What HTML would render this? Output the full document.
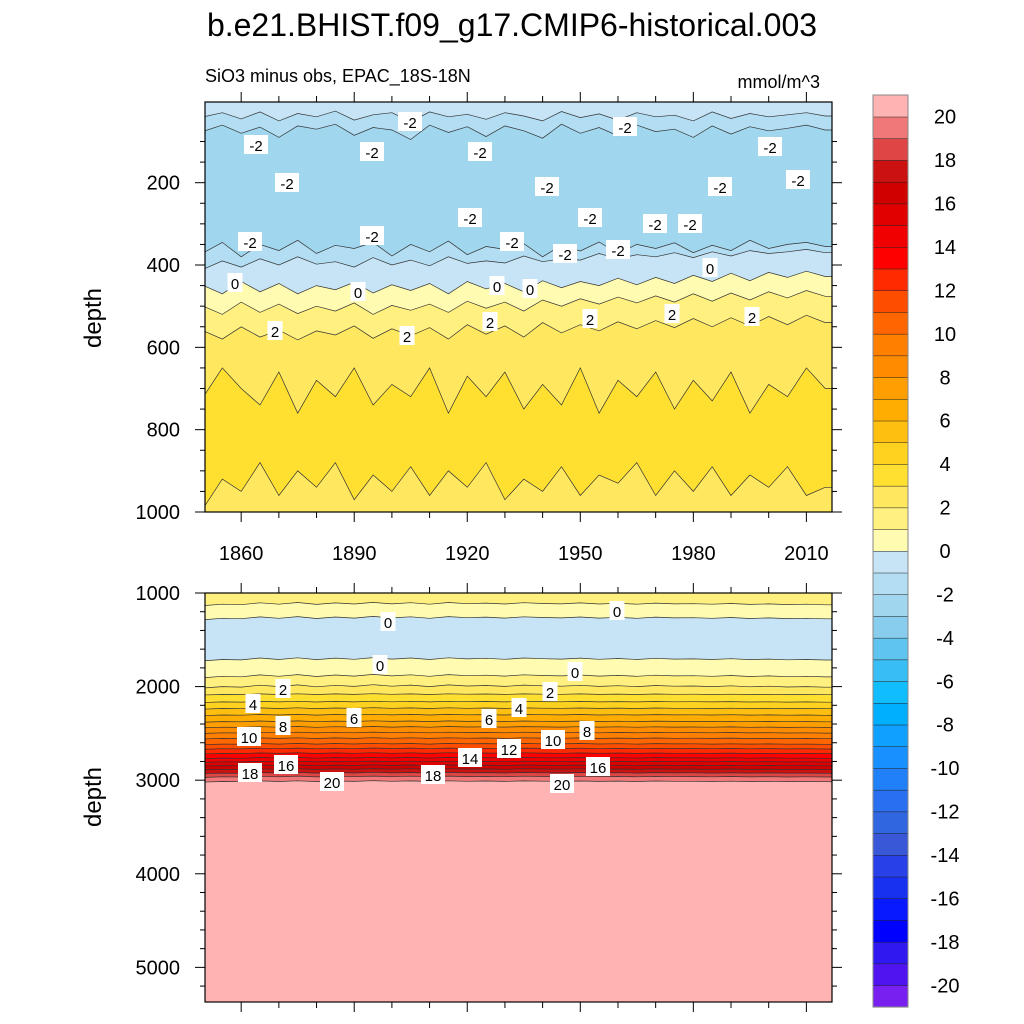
<!DOCTYPE html>
<html><head><meta charset="utf-8"><style>
body{margin:0;background:#fff;}
svg{display:block;font-family:"Liberation Sans",sans-serif;}
</style></head><body>
<svg id="chart" width="1024" height="1024" viewBox="0 0 1024 1024" xmlns="http://www.w3.org/2000/svg">
<text x="512" y="36" font-size="32" text-anchor="middle">b.e21.BHIST.f09_g17.CMIP6-historical.003</text>
<text x="205" y="82" font-size="18">SiO3 minus obs, EPAC_18S-18N</text>
<text x="820" y="88" font-size="18" text-anchor="end">mmol/m^3</text>
<g id="top"></g>
<g id="bot"></g>
<g id="cbar"></g>
</svg>
<script>
const NS="http://www.w3.org/2000/svg";
const years=[];for(let y=1850;y<=2015;y+=5)years.push(y);
// top panel contour boundary depths (m)
const topLevels=[-1,-2,-2,-1,0,1,2,3,3];
const topBelow=[-1.5,-2.5,-1.5,-0.5,0.5,1.5,2.5,3.5,2.5];
const topB0=[40,30,45,28,50,32,40,26,48,35,30,52,28,40,34,46,30,38,50,27,42,33,48,30,40,36,50,28,44,32,40,35,30,38];
const topB1=[75,60,80,65,90,62,70,58,85,66,72,95,60,78,64,88,62,74,92,58,80,66,86,60,76,70,90,62,82,64,74,68,60,72];
const topB2=[370,345,380,350,365,340,372,352,360,345,378,350,368,342,375,355,362,348,380,352,366,344,372,350,360,346,370,352,365,340,360,350,345,355];
const topB3=[410,390,405,385,400,380,398,392,405,382,400,388,402,380,396,390,395,378,392,385,388,372,385,375,380,370,382,368,378,365,372,368,362,370];
const topB4=[450,470,440,465,445,470,450,460,442,468,448,462,445,470,440,458,445,465,438,455,440,450,432,448,430,445,425,440,420,438,418,430,415,428];
const topB5=[500,520,490,515,495,518,500,512,492,520,498,510,495,515,488,505,490,512,485,500,482,495,478,492,475,490,470,488,468,485,465,480,462,476];
const topB6=[560,580,550,575,558,582,560,570,548,578,555,572,552,580,545,568,548,575,540,565,545,560,538,555,535,552,530,550,528,548,525,545,522,540];
const topB7=[720,650,700,740,660,760,680,720,650,740,690,720,650,760,670,720,660,750,690,740,650,760,680,720,660,750,680,730,660,760,690,720,650,700];
const topB8=[990,920,950,880,960,900,940,880,970,910,950,890,960,900,940,880,970,920,950,890,960,910,930,880,960,900,950,890,960,910,940,890,960,940];
const topBounds=[topB0,topB1,topB2,topB3,topB4,topB5,topB6,topB7,topB8];
// bottom panel
const botLevels=[1,0,0,1,2,3,4,5,6,7,8,9,10,11,12,13,14,15,16,17,18,19,20];
const botMean=[1110,1260,1700,1880,1990,2080,2160,2230,2300,2370,2430,2490,2550,2610,2660,2710,2760,2800,2840,2880,2920,2960,3010];
const botJit=[25,10,15,-5,10,-8,12,-4,8,-10,6,-6,10,-8,4,-2,8,-6,2,6,-4,8,0,10,-2,6,4,10,2,12,6,14,10,16];
const tickYearsMajor=[1860,1890,1920,1950,1980,2010];
const topDepthTicks=[200,400,600,800,1000];
const botDepthTicks=[1000,2000,3000,4000,5000];
const cbLevels=[];for(let v=-20;v<=20;v++)cbLevels.push(v);
const cbColors=["#7820F0","#5014F0","#3018F0","#0000FF","#0818FF","#1830F0","#2840E8","#3858D8","#3066E0","#2870F0","#2080F8","#1890FF","#10A0FF","#00B0FF","#10BEFF","#38BDF4","#60C4F0","#88CCEE","#A0D6EE","#B2DDF2","#C6E4F5","#FFFBB0","#FFF080","#FFE860","#FFE030","#FFD21F","#FFBF10","#FFAD00","#FF9E00","#FF8C00","#FF7F00","#FF6600","#FF4D00","#FF2A00","#FF0000","#F00000","#E00000","#D00000","#CC1111","#DE4545","#F07878","#FFB3B3"];
function colorFor(v){let i=Math.floor(v)+21;return cbColors[Math.max(0,Math.min(41,i))];}
const X0=205,X1=832,Y0=1850.4,Y1=2016.8;
const xs=y=>X0+(y-Y0)/(Y1-Y0)*(X1-X0);
function mk(t,a,p){const e=document.createElementNS(NS,t);for(const k in a)e.setAttribute(k,a[k]);p.appendChild(e);return e;}
function panel(g,top,bot,dmin,dmax,bounds,belows,topColor,name){
  const ys=d=>top+(d-dmin)/(dmax-dmin)*(bot-top);
  const cid="clip"+name;
  const cp=mk("clipPath",{id:cid},g);mk("rect",{x:X0,y:top,width:X1-X0,height:bot-top},cp);
  const bg=mk("rect",{x:X0,y:top,width:X1-X0,height:bot-top,fill:topColor},g);
  
  
  const cg=mk("g",{"clip-path":"url(#"+cid+")"},g);
  bounds.forEach((arr,i)=>{
    const pts=arr.map((d,k)=>xs(years[k]).toFixed(1)+","+ys(d).toFixed(1));
    const xa=xs(years[0])-5,xb=xs(years[years.length-1])+10;
    const poly=mk("polygon",{points:xa+","+ys(arr[0])+" "+pts.join(" ")+" "+xb+","+ys(arr[arr.length-1])+" "+xb+","+(bot+5)+" "+xa+","+(bot+5),fill:colorFor(belows[i])},cg);
    
    
    const ln=mk("polyline",{points:xa+","+ys(arr[0])+" "+pts.join(" ")+" "+xb+","+ys(arr[arr.length-1]),fill:"none",stroke:"#333",'stroke-width':0.7},cg);
    
    
  });
  mk("rect",{x:X0,y:top,width:X1-X0,height:bot-top,fill:"none",stroke:"#000",'stroke-width':1.2},g);
  for(let y=1860;y<=2010;y+=10){const maj=tickYearsMajor.includes(y);const x=xs(y);
    mk("line",{x1:x,x2:x,y1:bot,y2:bot+(maj?10:6),stroke:"#000"},g);
    mk("line",{x1:x,x2:x,y1:top,y2:top-(maj?10:6),stroke:"#000"},g);}
  return ys;
}
const gt=document.getElementById("top");
const ysT=panel(gt,102,512,4,1000,topBounds,topBelow,"#C6E4F5","top");
for(let d=100;d<=1000;d+=50){const maj=topDepthTicks.includes(d);const y=ysT(d);
  mk("line",{x1:X0,x2:X0-(maj?10:5),y1:y,y2:y,stroke:"#000"},gt);mk("line",{x1:X1,x2:X1+(maj?10:5),y1:y,y2:y,stroke:"#000"},gt);}
topDepthTicks.forEach(d=>{const t=mk("text",{x:180,y:ysT(d)+7,'font-size':20,'text-anchor':'end'},gt);t.textContent=d;
  });
tickYearsMajor.forEach(y=>{const t=mk("text",{x:xs(y),y:560,'font-size':20,'text-anchor':'middle'},gt);t.textContent=y;
  });
const yl1=mk("text",{transform:"translate(101,318) rotate(-90)",'font-size':24,'text-anchor':'middle'},gt);yl1.textContent="depth";

const gb=document.getElementById("bot");
const botBounds=botMean.map(m=>botJit.map(j=>m+j*(m<2000?1:0.4)));
const botBelow=botLevels.map((l,i)=>i==1?-0.5:(i==0?0.5:l+0.5));
const ysB=panel(gb,593,1002,1000,5370,botBounds,botBelow,"#FFF080","bot");
for(let d=1000;d<=5200;d+=200){const maj=botDepthTicks.includes(d);const y=ysB(d);
  mk("line",{x1:X0,x2:X0-(maj?10:5),y1:y,y2:y,stroke:"#000"},gb);mk("line",{x1:X1,x2:X1+(maj?10:5),y1:y,y2:y,stroke:"#000"},gb);}
botDepthTicks.forEach(d=>{const t=mk("text",{x:180,y:ysB(d)+7,'font-size':20,'text-anchor':'end'},gb);t.textContent=d;
  });
const yl2=mk("text",{transform:"translate(101,797) rotate(-90)",'font-size':24,'text-anchor':'middle'},gb);yl2.textContent="depth";

const topLab=[["-2",256,145],["-2",410,122],["-2",372,152],["-2",480,152],["-2",287,183],["-2",625,127],["-2",770,147],["-2",547,187],["-2",720,187],["-2",798,180],["-2",470,218],["-2",590,218],["-2",655,224],["-2",690,224],["-2",250,242],["-2",372,236],["-2",512,242],["-2",565,254],["-2",618,250],["0",235,283],["0",358,292],["0",497,286],["0",530,289],["0",710,268],["2",275,331],["2",407,336],["2",490,322],["2",590,319],["2",672,314],["2",752,317]];
const botLab=[["0",617,611],["0",388,622],["0",380,665],["0",575,672],["2",283,689],["2",550,692],["4",253,704],["4",519,708],["6",354,718],["6",489,719],["8",283,726],["8",587,731],["10",249,737],["10",553,740],["12",509,749],["14",470,758],["16",286,765],["16",598,767],["18",250,773],["18",433,775],["20",332,782],["20",562,784]];
function labels(arr,g){arr.forEach(([s,x,y])=>{const w=s.length*9+6;
  mk("rect",{x:x-w/2,y:y-10,width:w,height:19,fill:"#fff"},g);
  const t=mk("text",{x:x,y:y+6,'font-size':15,'text-anchor':'middle'},g);t.textContent=s;
  });}
labels(topLab,gt);labels(botLab,gb);
const gc=document.getElementById("cbar");
const CT=95,CB=1007,CX=873,CW=35,bh=(CB-CT)/42;
cbColors.forEach((c,i)=>{const r=mk("rect",{x:CX,y:CB-(i+1)*bh,width:CW,height:bh+0.3,fill:c,stroke:"#222",'stroke-width':0.5},gc);
  });
mk("rect",{x:CX,y:CT,width:CW,height:CB-CT,fill:"none",stroke:"#888",'stroke-width':1},gc);
cbLevels.forEach((v,i)=>{if(v%2)return;const y=CB-(i+1)*bh;
  const t=mk("text",{x:945,y:y+7,'font-size':20,'text-anchor':'middle'},gc);t.textContent=v;
  });
</script>
</body></html>
